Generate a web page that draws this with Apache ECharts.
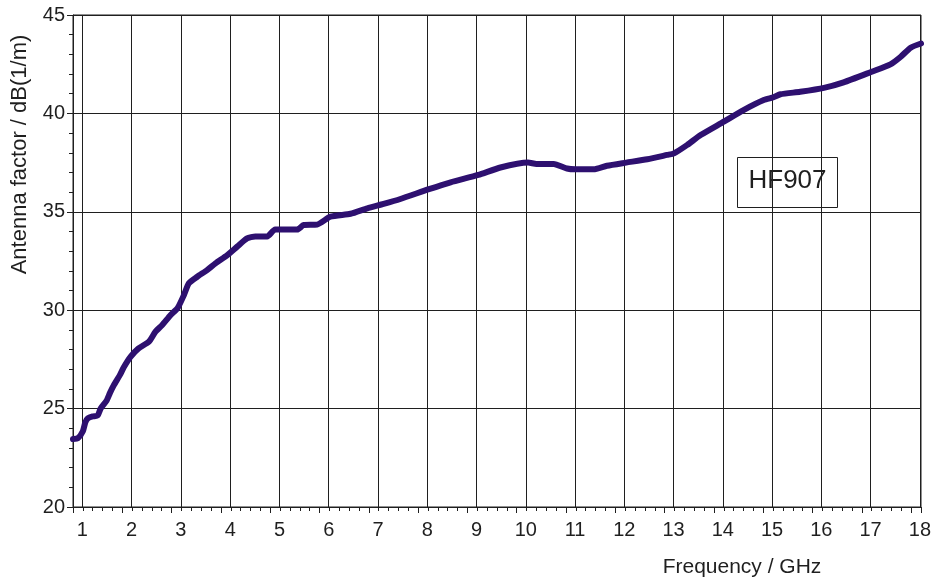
<!DOCTYPE html>
<html>
<head>
<meta charset="utf-8">
<title>HF907 antenna factor</title>
<script src="https://cdn.jsdelivr.net/npm/echarts@6/dist/echarts.min.js"></script>
<style>
  html, body { margin: 0; padding: 0; background: #fff; }
  #chart { width: 934px; height: 585px; }
</style>
</head>
<body>
<div id="chart"></div>
<script>
// frequency in GHz, antenna factor in dB(1/m)
const freqs = [
  0.8, 0.9, 1.0, 1.05, 1.1, 1.2, 1.3, 1.36, 1.48, 1.55, 1.63, 1.75, 1.83, 1.97,
  2.13, 2.34, 2.47, 2.61, 2.78, 2.92, 3.05, 3.15, 3.32, 3.52, 3.69, 3.93,
  4.13, 4.33, 4.5, 4.74, 4.9, 5.35, 5.48, 5.75, 6.02, 6.43, 6.77, 7.1, 7.44,
  8.02, 8.46, 9.02, 9.47, 10.03, 10.2, 10.55, 10.82, 10.99, 11.36, 11.63,
  12.02, 12.45, 12.85, 12.99, 13.26, 13.53, 14.0, 14.4, 14.81, 15.01, 15.15,
  15.55, 16.03, 16.43, 17.0, 17.38, 17.59, 17.79, 18.0
];
const afValues = [
  23.45, 23.5, 23.85, 24.3, 24.5, 24.6, 24.65, 25.0, 25.4, 25.8, 26.2, 26.7, 27.1, 27.64,
  28.06, 28.4, 28.9, 29.25, 29.76, 30.1, 30.77, 31.37, 31.7, 32.04, 32.38, 32.8,
  33.23, 33.65, 33.75, 33.75, 34.1, 34.1, 34.33, 34.35, 34.75, 34.9, 35.18, 35.4, 35.65,
  36.15, 36.5, 36.87, 37.25, 37.5, 37.43, 37.43, 37.2, 37.16, 37.16, 37.34,
  37.5, 37.67, 37.89, 37.97, 38.4, 38.9, 39.58, 40.17, 40.68, 40.82, 40.97,
  41.1, 41.3, 41.58, 42.12, 42.49, 42.88, 43.34, 43.55
];
const xTicks = [1, 18, 1];      // label range: first, last, step
const yTicks = [20, 45, 5];

const FONT = 'Liberation Sans, Arial, sans-serif';
const INK = '#1f1f1f';

const chart = echarts.init(document.getElementById('chart'), null, { renderer: 'canvas' });

const option = {
  animation: false,
  backgroundColor: '#fff',
  grid: [
    // frame: axis lines, ticks, horizontal grid
    { left: 73, top: 15, right: 13, bottom: 78, show: true, borderColor: INK, borderWidth: 1, backgroundColor: 'transparent' },
    // integer frequency grid lines and labels
    { left: 82.4, top: 15, right: 13.4, bottom: 78 }
  ],
  xAxis: [
    {
      type: 'value', gridIndex: 0,
      min: 0.8, max: 18, interval: 1,
      axisLine: { show: true, lineStyle: { color: INK, width: 1 } },
      axisTick: { show: true, inside: false, length: 6, lineStyle: { color: INK } },
      minorTick: { show: true, splitNumber: 5, length: 4, lineStyle: { color: INK } },
      axisLabel: { show: false },
      splitLine: { show: false }
    },
    {
      type: 'value', gridIndex: 1,
      min: xTicks[0], max: xTicks[1], interval: xTicks[2],
      axisLine: { show: false },
      axisTick: { show: false },
      axisLabel: { show: true, fontSize: 20, fontFamily: FONT, color: INK, margin: 13 },
      splitLine: { show: true, lineStyle: { color: INK, width: 1 } }
    }
  ],
  yAxis: [
    {
      type: 'value', gridIndex: 0,
      min: yTicks[0], max: yTicks[1], interval: yTicks[2],
      axisLine: { show: true, lineStyle: { color: INK, width: 1 } },
      axisTick: { show: true, inside: false, length: 6, lineStyle: { color: INK } },
      minorTick: { show: true, splitNumber: 5, length: 4, lineStyle: { color: INK } },
      axisLabel: { show: true, fontSize: 20, fontFamily: FONT, color: INK, margin: 8 },
      splitLine: { show: true, lineStyle: { color: INK, width: 1 } }
    },
    {
      type: 'value', gridIndex: 1,
      min: yTicks[0], max: yTicks[1], show: false
    }
  ],
  series: [{
    name: 'HF907',
    type: 'line',
    xAxisIndex: 0,
    yAxisIndex: 0,
    data: freqs.map((f, i) => [f, afValues[i]]),
    showSymbol: false,
    smooth: 0.2,
    clip: false,
    lineStyle: { color: '#2e1070', width: 6, cap: 'round', join: 'round' },
    z: 5
  }],
  graphic: [
    {
      type: 'text', x: 19.5, y: 154.5, rotation: Math.PI / 2,
      style: {
        text: 'Antenna factor / dB(1/m)', fill: INK,
        font: '22px ' + FONT, align: 'center', verticalAlign: 'middle'
      }
    },
    {
      type: 'text', x: 742, y: 567,
      style: {
        text: 'Frequency / GHz', fill: INK,
        font: '21px ' + FONT, align: 'center', verticalAlign: 'middle'
      }
    },
    {
      type: 'group', z: 10,
      children: [
        {
          type: 'rect', shape: { x: 737.5, y: 157.5, width: 100, height: 50 },
          style: { fill: '#fff', stroke: INK, lineWidth: 1 }
        },
        {
          type: 'text', x: 787.5, y: 181,
          style: {
            text: 'HF907', fill: INK,
            font: '26px ' + FONT, align: 'center', verticalAlign: 'middle'
          }
        }
      ]
    }
  ]
};

chart.setOption(option);
window.addEventListener('resize', () => chart.resize());
</script>
</body>
</html>
